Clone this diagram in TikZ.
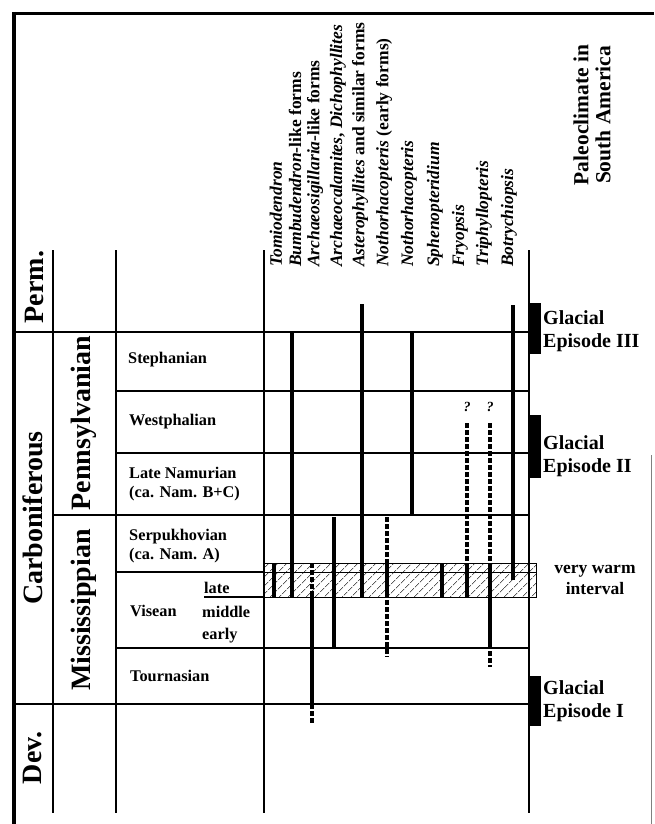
\documentclass[tikz,border=0pt]{standalone}
\usepackage{fontspec}
\setmainfont{Liberation Serif}
\usetikzlibrary{patterns.meta}
\begin{document}
\begin{tikzpicture}[x=1pt, y=-1pt,
  grid/.style = {line width=1.6pt},
  bar/.style = {line width=4pt},
  dbar/.style = {line width=4pt, dash pattern=on 4.5pt off 2.5pt},
  period/.style = {rotate=90, inner sep=0pt, font=\fontsize{28}{30}\selectfont\bfseries},
  stage/.style = {anchor=west, inner sep=0pt, align=left, font=\fontsize{16.3}{18.5}\selectfont\bfseries},
  taxon/.style = {rotate=90, anchor=west, inner sep=0pt, font=\fontsize{17.5}{19}\selectfont\bfseries},
  glacial/.style = {anchor=west, inner sep=0pt, align=left, font=\fontsize{20}{23}\selectfont\bfseries},
  query/.style = {inner sep=0pt, font=\fontsize{14}{15}\selectfont\bfseries\itshape},
  ice/.style = {fill=black}]
\useasboundingbox (0,0) rectangle (654,824);
% frame
\draw[line width=3.5pt] (12,13.5) -- (654,13.5);
\draw[line width=4pt] (14,12) -- (14,824);
\draw[gray, line width=0.8pt] (651,455) -- (651,824);
% very warm interval
\draw[line width=1pt, pattern={Lines[angle=45, distance=6.5pt, line width=0.7pt]}] (263,563) rectangle (536,597);
\draw[line width=1pt] (263,572) -- (536,572);
% columns and rows
\draw[grid] (53,250) -- (53,813);
\draw[grid] (116,250) -- (116,813);
\draw[grid] (264,250) -- (264,813);
\draw[grid] (529,250) -- (529,813);
\draw[grid] (14,332) -- (529,332);
\draw[grid] (116,391) -- (529,391);
\draw[grid] (116,453) -- (529,453);
\draw[grid] (53,515) -- (529,515);
\draw[grid] (116,572) -- (264,572);
\draw[grid] (204,597) -- (264,597);
\draw[grid] (116,648) -- (529,648);
\draw[grid] (14,704) -- (529,704);
% periods
\node[period] (perm) at (35,287) {Perm.};
\node[period] (carb) at (33,518) {Carboniferous};
\node[period] (dev) at (33,758) {Dev.};
\node[period] (penn) at (84,423) {Pennsylvanian};
\node[period] (miss) at (84,610) {Mississippian};
% stages
\node[stage] (steph) at (128,360) {Stephanian};
\node[stage] (westph) at (129,422) {Westphalian};
\node[stage] (namur) at (129,484) {Late Namurian\\(ca. Nam. B+C)};
\node[stage] (serpuk) at (129,546) {Serpukhovian\\(ca. Nam. A)};
\node[stage] (visean) at (130,611) {Visean};
\node[stage] (vlate) at (204,588) {late};
\node[stage] (vmiddle) at (202,612) {middle};
\node[stage] (vearly) at (202,636) {early};
\node[stage] (tourn) at (130,676) {Tournasian};
% taxa
\node[taxon] (tomio) at (276,267) {\textit{Tomiodendron}};
\node[taxon] (bumbu) at (295,267) {\textit{Bumbudendron}-like forms};
\node[taxon] (archs) at (315,267) {\textit{Archaeosigillaria}-like forms};
\node[taxon] (archc) at (338,267) {\textit{Archaeocalamites}, \textit{Dichophyllites}};
\node[taxon] (aster) at (360,267) {\textit{Asterophyllites} and similar forms};
\node[taxon] (nothe) at (384,267) {\textit{Nothorhacopteris} (early forms)};
\node[taxon] (notho) at (409,267) {\textit{Nothorhacopteris}};
\node[taxon] (sphen) at (435,267) {\textit{Sphenopteridium}};
\node[taxon] (fryop) at (460,267) {\textit{Fryopsis}};
\node[taxon] (triph) at (484,267) {\textit{Triphyllopteris}};
\node[taxon] (botry) at (509,267) {\textit{Botrychiopsis}};
% ranges
\draw[bar] (274,563) -- (274,597);
\draw[bar] (292,332) -- (292,597);
\draw[dbar] (312,563) -- (312,595);
\draw[bar] (312,595) -- (312,704);
\draw[dbar] (312,704) -- (312,723);
\draw[bar] (334,517) -- (334,648);
\draw[bar] (362,304) -- (362,597);
\draw[dbar] (387,517) -- (387,563);
\draw[bar] (387,563) -- (387,597);
\draw[dbar] (387,600) -- (387,657);
\draw[bar] (412,332) -- (412,515);
\draw[bar] (442,563) -- (442,597);
\draw[dbar] (467,423) -- (467,565);
\draw[bar] (467,565) -- (467,597);
\draw[dbar] (490,423) -- (490,565);
\draw[bar] (490,565) -- (490,648);
\draw[dbar] (490,651) -- (490,667);
\draw[bar] (513,305) -- (513,580);
\node[query] (q1) at (467,407) {?};
\node[query] (q2) at (490,407) {?};
% paleoclimate
\node[rotate=90, align=center, inner sep=0pt, font=\fontsize{21.5}{22}\selectfont\bfseries] (paleo) at (592,115) {Paleoclimate in\\South America};
\draw[ice] (529,303) rectangle (540,353);
\draw[ice] (529,415) rectangle (540,477);
\draw[ice] (529,676) rectangle (540,725);
\node[glacial] (glac3) at (543,331) {Glacial\\Episode III};
\node[glacial] (glac2) at (543,456) {Glacial\\Episode II};
\node[glacial] (glac1) at (543,701) {Glacial\\Episode I};
\node[align=center, inner sep=0pt, font=\fontsize{17.5}{21}\selectfont\bfseries] (warm) at (595,580) {very warm\\interval};
\end{tikzpicture}
\end{document}
